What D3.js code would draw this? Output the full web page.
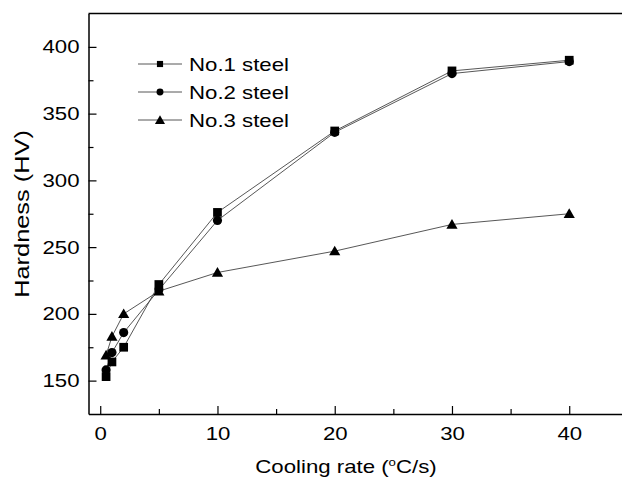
<!DOCTYPE html>
<html>
<head>
<meta charset="utf-8">
<script src="https://cdn.jsdelivr.net/npm/d3@7"></script>
<style>
  body { margin: 0; background: #fff; }
  text { font-family: "Liberation Sans", Arial, sans-serif; fill: #000; }
</style>
</head>
<body>
<div id="grafico"></div>
<script>
// datos
const coolingRate = [0.5, 1, 2, 5, 10, 20, 30, 40];
const steel1 = [153, 164, 175, 222, 276, 337, 382, 390];
const steel2 = [158, 171, 186, 218, 270, 336, 380, 389];
const steel3 = [169, 183, 200, 217, 231, 247, 267, 275];
const seriesNames = ["No.1 steel", "No.2 steel", "No.3 steel"];
const xTicks = [0, 10, 20, 30, 40];
const yTicks = [150, 200, 250, 300, 350, 400];

const WIDTH = 622;
const HEIGHT = 478;
const LEFT = 88.5, TOP = 13.5, BOTTOM = 414;
const FONT = "18.5px";
const ESTIRAR = 1.2; // el texto original es más ancho que Arial

const svg = d3.select("#grafico").append("svg").attr("width", WIDTH).attr("height", HEIGHT);

const escalaX = d3.scaleLinear().domain([-1, 45]).range([LEFT, LEFT + 46 * 11.725]);
const escalaY = d3.scaleLinear().domain([125, 425]).range([BOTTOM, TOP]);

// ensanchar texto
function estirar(sel, factor) {
    sel.each(function() {
        const w = this.getComputedTextLength();
        d3.select(this).attr("textLength", w * (factor || ESTIRAR)).attr("lengthAdjust", "spacingAndGlyphs");
    });
}

// marco superior
svg.append("line")
    .attr("x1", LEFT).attr("x2", WIDTH).attr("y1", TOP).attr("y2", TOP)
    .attr("stroke", "#000").attr("stroke-width", 1.5);

// ejes
svg.append("g").attr("transform", "translate(0," + BOTTOM + ")")
    .call(d3.axisBottom(escalaX).tickValues(xTicks).tickSizeInner(-8).tickSizeOuter(0).tickPadding(13));
svg.append("g").attr("transform", "translate(0," + BOTTOM + ")")
    .call(d3.axisBottom(escalaX).tickValues(d3.range(5, 45, 10)).tickSize(-5).tickFormat(""))
    .select(".domain").remove();

svg.append("g").attr("transform", "translate(" + LEFT + ",0)")
    .call(d3.axisLeft(escalaY).tickValues(yTicks).tickSizeInner(-8).tickSizeOuter(0).tickPadding(9));
svg.append("g").attr("transform", "translate(" + LEFT + ",0)")
    .call(d3.axisLeft(escalaY).tickValues(d3.range(175, 425, 50)).tickSize(-5).tickFormat(""))
    .select(".domain").remove();

svg.selectAll(".domain").attr("stroke", "#000").attr("stroke-width", 1.5);
svg.selectAll(".tick line").attr("stroke", "#000").attr("stroke-width", 1.2);
svg.selectAll(".tick text")
    .style("font-size", FONT)
    .style("font-family", "Liberation Sans, Arial, sans-serif")
    .call(estirar);

// títulos
svg.append("text")
    .attr("x", 346).attr("y", 473)
    .attr("text-anchor", "middle")
    .style("font-size", FONT)
    .html('Cooling rate (<tspan dy="-7" font-size="11px">o</tspan><tspan dy="7">C/s)</tspan>')
    .call(estirar);

svg.append("text")
    .attr("transform", "translate(29,214) rotate(-90)")
    .attr("text-anchor", "middle")
    .style("font-size", "19.5px")
    .text("Hardness (HV)")
    .call(estirar, 1.3);

// series
const series = [steel1, steel2, steel3];
const simbolos = [d3.symbolSquare, d3.symbolCircle, d3.symbolTriangle];
const tamanos = [76, 66, 54];

const linea = d3.line()
    .x((d, i) => escalaX(coolingRate[i]))
    .y(d => escalaY(d));

series.forEach(function(valores) {
    svg.append("path")
        .datum(valores)
        .attr("d", linea)
        .attr("fill", "none")
        .attr("stroke", "#444")
        .attr("stroke-width", 0.9);
});

series.forEach(function(valores, s) {
    svg.selectAll(".pt" + s)
        .data(valores)
        .enter().append("path")
        .attr("class", "pt" + s)
        .attr("transform", (d, i) => "translate(" + escalaX(coolingRate[i]) + "," + (escalaY(d) + (s === 2 ? 1 : 0)) + ")")
        .attr("d", d3.symbol().type(simbolos[s]).size(tamanos[s]))
        .attr("fill", "#000");
});

// leyenda
const leyenda = svg.selectAll(".leyenda")
    .data(seriesNames)
    .enter().append("g")
    .attr("class", "leyenda")
    .attr("transform", (d, i) => "translate(138," + (64 + i * 28) + ")");

leyenda.append("line")
    .attr("x1", 0).attr("x2", 44)
    .attr("stroke", "#444").attr("stroke-width", 0.9);

leyenda.append("path")
    .attr("transform", (d, i) => "translate(22," + (i === 2 ? 1 : 0) + ")")
    .attr("d", (d, i) => d3.symbol().type(simbolos[i]).size([38, 38, 44][i])())
    .attr("fill", "#000");

leyenda.append("text")
    .attr("x", 51)
    .attr("y", 6.5)
    .style("font-size", FONT)
    .text(d => d)
    .call(estirar);
</script>
</body>
</html>
